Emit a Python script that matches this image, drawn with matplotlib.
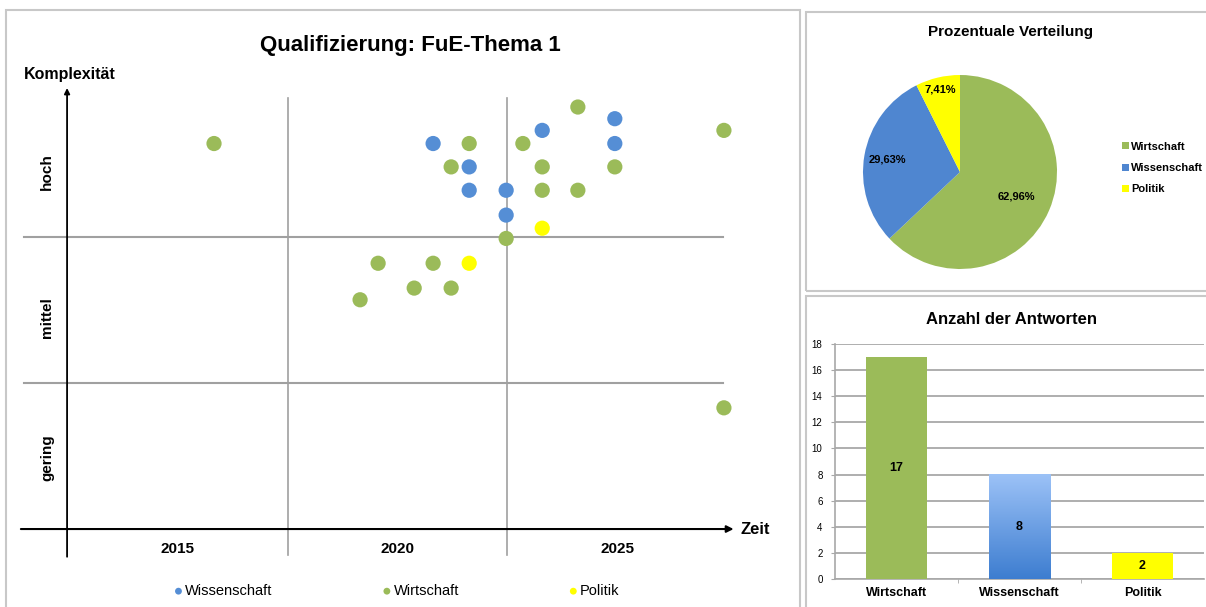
import matplotlib
matplotlib.use("Agg")
import matplotlib.pyplot as plt
import numpy as np
from matplotlib.patches import Rectangle
from matplotlib.colors import LinearSegmentedColormap

plt.rcParams['font.family'] = ['Liberation Sans', 'DejaVu Sans']

# ---------------- data ----------------
# scatter: time (year) vs. complexity (0 = gering .. 3 = hoch)
wiss_x = [2020.82, 2023.30, 2024.95, 2024.95, 2021.64, 2021.64, 2022.48, 2022.48]
wiss_y = [2.64, 2.73, 2.81, 2.64, 2.48, 2.32, 2.32, 2.15]
wirt_x = [2015.84, 2021.64, 2022.86, 2024.11, 2027.43, 2021.23, 2023.30, 2024.95,
          2023.30, 2024.11, 2022.48, 2019.57, 2020.82, 2020.39, 2021.23, 2019.16, 2027.43]
wirt_y = [2.64, 2.64, 2.64, 2.89, 2.73, 2.48, 2.48, 2.48,
          2.32, 2.32, 1.99, 1.82, 1.82, 1.65, 1.65, 1.57, 0.83]
pol_x = [2023.30, 2021.64]
pol_y = [2.06, 1.82]

year_labels = ['2015', '2020', '2025']
year_label_pos = [2015, 2020, 2025]
level_labels = ['gering', 'mittel', 'hoch']
level_label_pos = [0.49, 1.45, 2.45]
col_bounds = [2017.52, 2022.5]
row_bounds = [1, 2]

categories = ['Wirtschaft', 'Wissenschaft', 'Politik']
counts = [17, 8, 2]

GREEN = '#9BBB59'
BLUE = '#4F86D0'
YELLOW = '#FFFF00'

W, H = 1206, 607
fig = plt.figure(figsize=(W / 100, H / 100), dpi=100)


def fx(px):
    return px / W


def fy(py):
    return 1 - py / H


# panel frames
for (x0, y0, x1, y1) in [(6, 10, 800, 640), (806, 12, 1240, 291), (806, 296, 1240, 640)]:
    fig.patches.append(Rectangle((fx(x0), fy(y1)), fx(x1) - fx(x0), fy(y0) - fy(y1),
                                 transform=fig.transFigure, fill=False,
                                 edgecolor='#C8C8C8', lw=1.5, zorder=0))

# ---------------- scatter panel ----------------
ax = fig.add_axes([fx(20), fy(600), fx(760) - fx(20), fy(60) - fy(600)])
ax.set_xlim(2011.43, 2028.25)
ax.set_ylim(-0.486, 3.212)
ax.axis('off')

grid_c = '#A0A0A0'
for xb in col_bounds:
    ax.plot([xb, xb], [-0.18, 2.95], color=grid_c, lw=1.2, zorder=1)
for yb in row_bounds:
    ax.plot([2011.52, 2027.41], [yb, yb], color=grid_c, lw=1.5, zorder=1)

ax.annotate('', xy=(2027.65, 0), xytext=(2011.45, 0),
            arrowprops=dict(arrowstyle='-|>', lw=1.5, color='black',
                            mutation_scale=10, shrinkA=0, shrinkB=0), zorder=2)
ax.annotate('', xy=(2012.5, 3.02), xytext=(2012.5, -0.19),
            arrowprops=dict(arrowstyle='-|>', lw=1.3, color='black',
                            mutation_scale=8, shrinkA=0, shrinkB=0), zorder=2)

ms = 120
ax.scatter(wiss_x, wiss_y, s=ms, color='#558ED5', label='Wissenschaft', zorder=3, edgecolors='none')
ax.scatter(wirt_x, wirt_y, s=ms, color=GREEN, label='Wirtschaft', zorder=3, edgecolors='none')
ax.scatter(pol_x, pol_y, s=ms, color=YELLOW, label='Politik', zorder=3, edgecolors='none')

for lab, xp in zip(year_labels, year_label_pos):
    ax.text(xp, -0.137, lab, ha='center', va='center', fontsize=11,
            fontweight='bold')
for lab, yp in zip(level_labels, level_label_pos):
    ax.text(2012.05, yp, lab, rotation=90, ha='center', va='center', fontsize=11,
            fontweight='bold')
ax.text(2011.52, 3.11, 'Komplexität', ha='left', va='center', fontsize=11.5,
        fontweight='bold')
ax.text(2027.8, 0, 'Zeit', ha='left', va='center', fontsize=12,
        fontweight='bold')

fig.text(fx(410), fy(45), 'Qualifizierung: FuE-Thema 1', ha='center', va='center',
         fontsize=16, fontweight='bold')

ax.legend(loc='center', bbox_to_anchor=(fx(396), fy(591)), bbox_transform=fig.transFigure,
          ncol=3, frameon=False, markerscale=0.45, handletextpad=0.05,
          columnspacing=7.45, handlelength=0.8, prop=dict(size=10.5))

# ---------------- pie panel ----------------
r = 97
pax = fig.add_axes([fx(960 - r), fy(172 + r), fx(2 * r), fy(0) - fy(2 * r)])
wedges, texts, autotexts = pax.pie(
    counts, colors=[GREEN, BLUE, YELLOW], startangle=90, counterclock=False,
    autopct=lambda p: f'{p:.2f}%'.replace('.', ','), pctdistance=0.63,
    textprops=dict(fontsize=8, fontweight='bold'),
    wedgeprops=dict(edgecolor='none'))
pax.set_xlim(-1, 1)
pax.set_ylim(-1, 1)
pax.set_aspect('equal')
# label distances per wedge
for t, d in zip(autotexts, [0.63, 0.76, 0.87]):
    x, y = t.get_position()
    n = np.hypot(x, y)
    t.set_position((x / n * d, y / n * d))

fig.text(fx(1011), fy(32), 'Prozentuale Verteilung', ha='center', va='center',
         fontsize=11, fontweight='bold')
fig.legend(wedges, categories, loc='center left', bbox_to_anchor=(fx(1112), fy(168)),
           frameon=False, handlelength=0.6, handleheight=0.6, handletextpad=0.25,
           labelspacing=1.0, prop=dict(size=8, weight='bold'))

# ---------------- bar panel ----------------
bax = fig.add_axes([fx(835), fy(579), fx(1204) - fx(835), fy(344) - fy(579)])
xpos = np.arange(len(categories))
bars = bax.bar(xpos, counts, width=0.5, color=[GREEN, 'none', YELLOW], zorder=3)
# gradient fill for the blue bar (light at top, darker at bottom)
b = bars[1]
bx, by = b.get_x(), b.get_y()
bw, bh = b.get_width(), b.get_height()
grad = np.linspace(0, 1, 256).reshape(-1, 1)
cmap = LinearSegmentedColormap.from_list('bl', ['#3D7DD0', '#9CC2F7'])
bax.imshow(grad, extent=(bx, bx + bw, by, by + bh), origin='lower', cmap=cmap,
           aspect='auto', zorder=3)
bax.set_xlim(-0.5, 2.5)
bax.set_ylim(0, 18)
bax.set_yticks(range(0, 19, 2))
bax.yaxis.grid(True, color='#A8A8A8', lw=1.3, zorder=0)
bax.set_axisbelow(True)
bax.set_xticks(xpos)
bax.set_xticklabels(categories, fontsize=9, fontweight='bold')
bax.set_xticks([0.5, 1.5], minor=True)
bax.tick_params(axis='x', which='major', length=0, pad=6)
bax.tick_params(axis='x', which='minor', length=3, color='#A8A8A8')
bax.tick_params(axis='y', labelsize=7, length=3, color='#A8A8A8', pad=6)
for s in ['top', 'right']:
    bax.spines[s].set_visible(False)
bax.spines['left'].set_color('#A8A8A8')
bax.spines['bottom'].set_color('#A8A8A8')
bax.spines['left'].set_linewidth(1.2)
bax.spines['bottom'].set_linewidth(1.2)
for xp, c in zip(xpos, counts):
    bax.text(xp, c / 2, str(c), ha='center', va='center', fontsize=9,
             fontweight='bold', zorder=4)

fig.text(fx(1011), fy(320), 'Anzahl der Antworten', ha='center', va='center',
         fontsize=12, fontweight='bold')

fig.savefig('out.png', dpi=100)
